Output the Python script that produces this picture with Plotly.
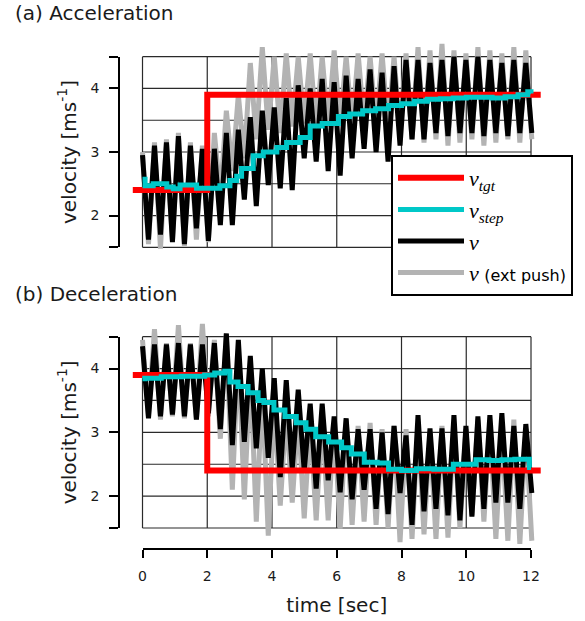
import plotly.graph_objects as go

W, H = 585, 621
OFF = 0  # body margin is reset to 0 after plotting (see post_script)

# ---------------- data ----------------
step_period = 0.37  # s, one gait cycle (peak-to-peak)

acc_black_peaks = [2.95, 3.10, 3.15, 3.25, 3.10, 3.05, 3.05, 3.30, 3.35, 3.55, 3.65, 3.70, 3.85,
                   4.05, 4.00, 4.15, 4.10, 4.20, 4.15, 4.30, 4.25, 4.35, 4.45, 4.45, 4.40, 4.45,
                   4.50, 4.45, 4.50, 4.45, 4.40, 4.45, 4.40]
acc_black_troughs = [1.62, 1.70, 1.58, 1.55, 1.80, 1.60, 1.85, 1.85, 2.25, 2.15, 2.48, 2.43, 2.40,
                     2.90, 2.85, 2.70, 2.63, 2.90, 3.05, 3.00, 2.85, 3.10, 3.20, 3.20, 3.30, 3.25,
                     3.30, 3.30, 3.25, 3.30, 3.25, 3.30, 3.30]
acc_gray_peaks = [3.00, 3.15, 3.20, 3.30, 3.15, 3.10, 3.30, 3.65, 3.90, 4.40, 4.65, 4.50, 4.55,
                  4.50, 4.55, 4.50, 4.60, 4.50, 4.55, 4.50, 4.55, 4.50, 4.55, 4.65, 4.60, 4.70,
                  4.60, 4.55, 4.65, 4.60, 4.55, 4.65, 4.60]
acc_gray_troughs = [1.55, 1.48, 1.60, 1.52, 1.62, 1.58, 2.30, 2.70, 2.90, 3.20, 3.35, 3.30, 3.40,
                    3.45, 3.35, 3.40, 3.45, 3.40, 3.45, 3.40, 3.35, 3.30, 3.20, 3.15, 3.20, 3.10,
                    3.15, 3.20, 3.10, 3.15, 3.20, 3.15, 3.20]
acc_step_t = [0.00, 0.08, 0.33, 0.75, 0.95, 1.16, 1.67, 2.39, 2.70, 2.91, 3.06, 3.42, 3.73, 4.15,
              4.45, 4.87, 5.18, 5.55, 6.05, 6.40, 6.80, 7.20, 7.60, 8.00, 8.40, 8.80, 9.20, 9.60,
              10.00, 10.40, 10.80, 11.20, 11.60, 11.90, 12.00]
acc_step_v = [2.57, 2.47, 2.50, 2.45, 2.42, 2.48, 2.43, 2.47, 2.55, 2.62, 2.74, 2.94, 3.00, 3.07,
              3.15, 3.23, 3.41, 3.45, 3.56, 3.60, 3.65, 3.68, 3.73, 3.76, 3.80, 3.83, 3.84, 3.85,
              3.86, 3.86, 3.85, 3.87, 3.90, 3.95, 3.92]
acc_tgt_t = [-0.3, 2.0, 12.3]
acc_tgt_v = [2.4, 3.9, 3.9]

dec_black_peaks = [4.35, 4.38, 4.38, 4.40, 4.38, 4.38, 4.40, 4.55, 4.45, 4.20, 4.00, 3.85, 3.82,
                   3.67, 3.45, 3.45, 3.25, 3.22, 3.05, 3.05, 3.00, 3.10, 2.95, 3.27, 3.06, 3.06,
                   3.27, 3.10, 3.25, 3.27, 3.30, 3.10, 3.13]
dec_black_troughs = [3.22, 3.25, 3.28, 3.25, 3.20, 3.30, 3.05, 2.80, 2.85, 2.75, 2.60, 2.30, 2.43,
                     2.40, 2.12, 2.25, 2.06, 1.95, 2.10, 1.80, 1.72, 2.05, 1.55, 1.76, 1.80, 1.70,
                     1.62, 1.68, 1.80, 1.90, 1.90, 1.80, 2.05]
dec_gray_peaks = [4.45, 4.62, 4.40, 4.68, 4.40, 4.70, 4.45, 4.55, 4.30, 4.00, 3.70, 3.50, 3.35,
                  3.30, 3.20, 3.25, 3.15, 3.20, 3.10, 3.15, 3.05, 3.10, 3.05, 3.15, 3.00, 3.10,
                  3.15, 3.05, 3.20, 3.15, 3.10, 3.20, 3.05]
dec_gray_troughs = [3.25, 3.20, 3.25, 3.22, 3.20, 3.25, 2.90, 2.10, 1.95, 1.60, 1.38, 1.85, 1.90,
                    1.65, 1.62, 1.62, 1.49, 1.55, 1.60, 1.55, 1.50, 1.28, 1.33, 1.40, 1.33, 1.35,
                    1.50, 1.70, 1.60, 1.33, 1.30, 1.25, 1.30]
dec_step_t = [0.00, 0.07, 0.58, 1.20, 1.92, 2.23, 2.54, 2.70, 2.95, 3.26, 3.57, 3.75, 4.06, 4.40,
              4.75, 5.05, 5.35, 5.75, 6.15, 6.45, 6.85, 7.25, 7.60, 8.00, 8.46, 9.00, 9.60, 10.30,
              10.70, 11.10, 11.50, 11.95, 12.00]
dec_step_v = [3.84, 3.85, 3.87, 3.88, 3.90, 3.93, 3.96, 3.79, 3.72, 3.62, 3.50, 3.47, 3.35, 3.25,
              3.15, 3.05, 2.93, 2.85, 2.76, 2.66, 2.53, 2.52, 2.42, 2.40, 2.43, 2.42, 2.50, 2.57,
              2.56, 2.57, 2.58, 2.45, 2.45]
dec_tgt_t = [-0.3, 2.0, 12.3]
dec_tgt_v = [3.9, 2.4, 2.4]

x_ticks = [0, 2, 4, 6, 8, 10, 12]
x_grid = [0, 2, 4, 6, 8, 10, 12]
y_grid = [1.5, 2.0, 2.5, 3.0, 3.5, 4.0, 4.5]
y_ticks = [2, 3, 4]
y_ends = [1.5, 4.5]


def zigzag(peaks, troughs, period):
    t, v = [], []
    for k, (p, q) in enumerate(zip(peaks, troughs)):
        t += [k * period, k * period + period / 2]
        v += [p, q]
    return t, v


# ---------------- layout geometry (window pixels) ----------------
X0_PX, X12_PX = 142.5, 531.0
TOP_Y45, TOP_Y15 = 56.7, 247.3
BOT_Y45, BOT_Y15 = 336.7, 528.0
XR = [-0.5, 12.5]
YR = [1.2, 4.8]


def px(p):
    return (p - OFF) / W


def py(p):
    return 1 - (p - OFF) / H


def xdom(lo, hi):
    s = (X12_PX - X0_PX) / 12
    return [px(X0_PX + lo * s), px(X0_PX + hi * s)]


def ydom(lo, hi, y45, y15):
    s = (y15 - y45) / 3
    top = y45 - (hi - 4.5) * s
    bot = y15 + (1.5 - lo) * s
    return [py(bot), py(top)]


RED, CYAN, BLACK, GRAY = '#ff0000', '#00c8c8', '#000000', '#b3b3b3'
TXT = '#1a1a1a'

fig = go.Figure()

names = {
    'tgt': '<i>v</i><sub><i>tgt</i></sub>',
    'step': '<i>v</i><sub><i>step</i></sub>',
    'v': '<i>v</i>',
    'push': "<i>v</i> <span style='font-family:DejaVu Sans;font-size:16px'>(ext push)</span>",
}

panels = [
    ('x', 'y', acc_black_peaks, acc_black_troughs, acc_gray_peaks, acc_gray_troughs,
     acc_step_t, acc_step_v, acc_tgt_t, acc_tgt_v, True),
    ('x2', 'y2', dec_black_peaks, dec_black_troughs, dec_gray_peaks, dec_gray_troughs,
     dec_step_t, dec_step_v, dec_tgt_t, dec_tgt_v, False),
]

for xa, ya, bp, bt, gp, gt, st, sv, tt, tv, leg in panels:
    gtx, gvy = zigzag(gp, gt, step_period)
    btx, bvy = zigzag(bp, bt, step_period)
    fig.add_trace(go.Scatter(x=gtx, y=gvy, mode='lines', line=dict(color=GRAY, width=5),
                             name=names['push'], showlegend=leg, legendrank=4,
                             xaxis=xa, yaxis=ya, hoverinfo='skip'))
    fig.add_trace(go.Scatter(x=btx, y=bvy, mode='lines', line=dict(color=BLACK, width=5),
                             name=names['v'], showlegend=leg, legendrank=3,
                             xaxis=xa, yaxis=ya, hoverinfo='skip'))
    fig.add_trace(go.Scatter(x=tt, y=tv, mode='lines', line=dict(color=RED, width=6, shape='hv'),
                             name=names['tgt'], showlegend=leg, legendrank=1,
                             xaxis=xa, yaxis=ya, hoverinfo='skip'))
    fig.add_trace(go.Scatter(x=st, y=sv, mode='lines', line=dict(color=CYAN, width=5, shape='hv'),
                             name=names['step'], showlegend=leg, legendrank=2,
                             xaxis=xa, yaxis=ya, hoverinfo='skip'))

# dummy traces to activate detached axes
fig.add_trace(go.Scatter(x=[None], y=[None], xaxis='x', yaxis='y3', showlegend=False, hoverinfo='skip'))
fig.add_trace(go.Scatter(x=[None], y=[None], xaxis='x2', yaxis='y4', showlegend=False, hoverinfo='skip'))
fig.add_trace(go.Scatter(x=[None], y=[None], xaxis='x3', yaxis='y2', showlegend=False, hoverinfo='skip'))

# grid/box shapes
shapes = []
for xa, ya in [('x', 'y'), ('x2', 'y2')]:
    for gx in x_grid:
        shapes.append(dict(type='line', xref=xa, yref=ya, x0=gx, x1=gx, y0=y_grid[0], y1=y_grid[-1],
                           line=dict(color='#2a2a2a', width=1.2), layer='below'))
    for gy in y_grid:
        shapes.append(dict(type='line', xref=xa, yref=ya, x0=x_grid[0], x1=x_grid[-1], y0=gy, y1=gy,
                           line=dict(color='#2a2a2a', width=1.2), layer='below'))

tickfont = dict(family='DejaVu Sans', size=14, color=TXT)
title_font = dict(family='DejaVu Sans', size=20, color=TXT)


def free_y(y45, y15):
    return dict(domain=ydom(1.5, 4.5, y45, y15), range=[1.5, 4.5], anchor='free',
                position=px(119.3), side='left', showline=True, linecolor='black', linewidth=2,
                ticks='outside', ticklen=9, tickwidth=2, tickcolor='black',
                tickmode='array', tickvals=y_ticks, ticklabelstandoff=7,
                minor=dict(tickmode='array', tickvals=y_ends, ticks='outside', ticklen=9,
                           tickwidth=2, tickcolor='black', showgrid=False),
                showgrid=False, zeroline=False, tickfont=tickfont,
                title=dict(text='velocity [ms<sup>-1</sup>]', font=title_font, standoff=8))


fig.update_layout(
    width=W, height=H,
    margin=dict(l=0, r=0, t=0, b=0, autoexpand=False),
    paper_bgcolor='white', plot_bgcolor='rgba(0,0,0,0)',
    showlegend=True,
    xaxis=dict(domain=xdom(*XR), range=XR, visible=False, anchor='y'),
    yaxis=dict(domain=ydom(*YR, TOP_Y45, TOP_Y15), range=YR, visible=False, anchor='x'),
    xaxis2=dict(domain=xdom(*XR), range=XR, visible=False, anchor='y2'),
    yaxis2=dict(domain=ydom(*YR, BOT_Y45, BOT_Y15), range=YR, visible=False, anchor='x2'),
    yaxis3=free_y(TOP_Y45, TOP_Y15),
    yaxis4=free_y(BOT_Y45, BOT_Y15),
    xaxis3=dict(domain=[px(X0_PX), px(X12_PX)], range=[0, 12], anchor='free',
                position=py(549.3), side='bottom', showline=True, linecolor='black',
                linewidth=2, ticks='outside', ticklen=8, tickwidth=2, tickcolor='black',
                tickmode='array', tickvals=x_ticks, showgrid=False, zeroline=False,
                tickfont=tickfont, ticklabelstandoff=6,
                title=dict(text='time [sec]', font=title_font, standoff=14)),
    shapes=shapes,
    legend=dict(x=px(391), y=py(155), xanchor='left', yanchor='top', bgcolor='white',
                bordercolor='black', borderwidth=2,
                font=dict(family='Liberation Serif', size=22, color='black'),
                itemwidth=66, tracegroupgap=0),
    annotations=[
        dict(text='(a) Acceleration', xref='paper', yref='paper', x=px(13), y=py(13),
             xanchor='left', yanchor='middle', showarrow=False, font=title_font),
        dict(text='(b) Deceleration', xref='paper', yref='paper', x=px(13), y=py(294),
             xanchor='left', yanchor='middle', showarrow=False, font=title_font),
    ],
)

fig.write_html('out.html', config={'displayModeBar': False},
               post_script="document.body.style.margin='0px';document.body.style.overflow='hidden';")
